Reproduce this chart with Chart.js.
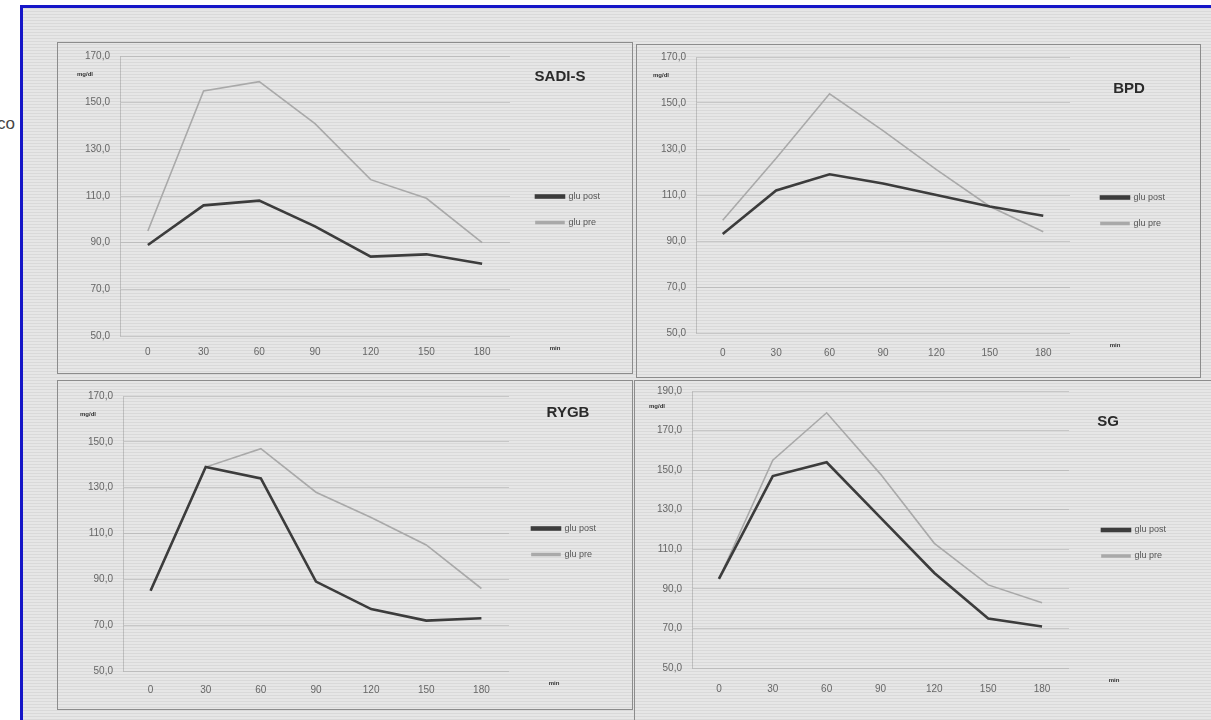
<!DOCTYPE html>
<html>
<head>
<meta charset="utf-8">
<script src="https://cdn.jsdelivr.net/npm/chart.js@4"></script>
<style>
  html, body { margin: 0; padding: 0; background: #fff; }
  body { width: 1211px; height: 720px; position: relative; overflow: hidden; font-family: "Liberation Sans", Arial, sans-serif; }
  #side { position: absolute; left: -3px; top: 114px; font-size: 17px; color: #444; }
  #frame {
    position: absolute; left: 20px; top: 5px; width: 1200px; height: 720px;
    border: 3px solid #1616c8; box-sizing: border-box;
    background: repeating-linear-gradient(0deg, #e6e6e6 0px, #e6e6e6 2px, #d9d9d9 2px, #d9d9d9 3px);
  }
  .panel { position: absolute; border: 1.5px solid #8c8c8c; box-sizing: border-box; }
  .panel canvas { position: absolute; left: 0; }
</style>
</head>
<body>
<div id="side">co</div>
<div id="frame"></div>
<div class="panel" style="left:57px;top:42px;width:576px;height:332px;"><canvas id="c1" style="top:-3px"></canvas></div>
<div class="panel" style="left:636px;top:44px;width:565px;height:334px;"><canvas id="c2" style="top:-4px"></canvas></div>
<div class="panel" style="left:57px;top:380px;width:576px;height:330px;"><canvas id="c3" style="top:-1px"></canvas></div>
<div class="panel" style="left:634px;top:380px;width:580px;height:345px;"><canvas id="c4" style="top:-6px"></canvas></div>
<script>
// tempi (min)
const timeLabels = ["0", "30", "60", "90", "120", "150", "180"];
const seriesNames = ["glu post", "glu pre"];

// SADI-S
const sadiPost = [89, 106, 108, 97, 84, 85, 81];
const sadiPre = [95, 155, 159, 141, 117, 109, 90];
// BPD
const bpdPost = [93, 112, 119, 115, 110, 105, 101];
const bpdPre = [99, 126, 154, 138, 121, 105, 94];
// RYGB
const rygbPost = [85, 139, 134, 89, 77, 72, 73];
const rygbPre = [85, 139, 147, 128, 117, 105, 86];
// SG
const sgPost = [95, 147, 154, 126, 98, 75, 71];
const sgPre = [95, 155, 179, 148, 113, 92, 83];

const LEGEND_W = 90;
const panels = [
  { id: "c1", title: "SADI-S", post: sadiPost, pre: sadiPre, yMax: 170,
    w: 573, h: 329, left: 62, bottom: 33, right: 120, tickPad: 2, legDx: 9, legDy: 5, tx: 502, ty: 37 },
  { id: "c2", title: "BPD", post: bpdPost, pre: bpdPre, yMax: 170,
    w: 562, h: 331, left: 59, bottom: 39, right: 128, tickPad: 6, legDx: 14, legDy: 4, tx: 492, ty: 48 },
  { id: "c3", title: "RYGB", post: rygbPost, pre: rygbPre, yMax: 170,
    w: 573, h: 327, left: 65, bottom: 36, right: 121, tickPad: 5, legDx: 6, legDy: -2, tx: 510, ty: 33 },
  { id: "c4", title: "SG", post: sgPost, pre: sgPre, yMax: 190,
    w: 577, h: 342, left: 57, bottom: 49, right: 142, tickPad: 7, legDx: 16, legDy: -3, tx: 473, ty: 47 }
];

// titolo, etichette degli assi, spostamento legenda
const extras = {
  id: "extras",
  afterLayout(chart) {
    const p = chart.options.plugins.extras;
    chart.legend.left += p.legDx;
    chart.legend.right += p.legDx;
    chart.legend.top += p.legDy;
    chart.legend.bottom += p.legDy;
  },
  afterDraw(chart) {
    const ctx = chart.ctx;
    const p = chart.options.plugins.extras;
    const area = chart.chartArea;
    ctx.save();
    ctx.fillStyle = "#2a2a2a";
    ctx.font = "bold 15px 'Liberation Sans', Arial, sans-serif";
    ctx.textAlign = "center";
    ctx.textBaseline = "middle";
    ctx.fillText(p.title, p.tx, p.ty);
    ctx.font = "bold 6px 'Liberation Sans', Arial, sans-serif";
    ctx.fillStyle = "#333";
    const y = chart.scales.y;
    ctx.fillText("mg/dl", area.left - 35, y.getPixelForValue(y.max - 8));
    ctx.fillText("min", area.right + 45, area.bottom + 12);
    ctx.restore();
  }
};

panels.forEach(function (p) {
  const canvas = document.getElementById(p.id);
  canvas.width = p.w;
  canvas.height = p.h;
  new Chart(canvas.getContext("2d"), {
    type: "line",
    data: {
      labels: timeLabels,
      datasets: [{
        label: seriesNames[0],
        data: p.post,
        borderColor: "#3c3c3c",
        backgroundColor: "#3c3c3c",
        borderWidth: 2.6,
        pointRadius: 0,
        tension: 0
      }, {
        label: seriesNames[1],
        data: p.pre,
        borderColor: "#a9a9a9",
        backgroundColor: "#a9a9a9",
        borderWidth: 1.6,
        pointRadius: 0,
        tension: 0
      }]
    },
    options: {
      responsive: false,
      animation: false,
      layout: { padding: { left: 0, top: 0, bottom: 0, right: p.right - LEGEND_W } },
      scales: {
        x: {
          offset: true,
          grid: { display: false },
          border: { display: false },
          ticks: { color: "#666", font: { size: 10 }, padding: p.tickPad, maxRotation: 0 },
          afterFit: function (s) { s.height = p.bottom; }
        },
        y: {
          min: 50,
          max: p.yMax,
          grid: { color: "rgba(120,120,120,0.28)", drawTicks: false },
          border: { color: "rgba(120,120,120,0.35)" },
          ticks: {
            stepSize: 20,
            color: "#666",
            font: { size: 10 },
            padding: 10,
            callback: function (v) { return v.toFixed(1).replace(".", ","); }
          },
          afterFit: function (s) { s.width = p.left; }
        }
      },
      plugins: {
        legend: {
          position: "right",
          align: "center",
          labels: { boxWidth: 28, boxHeight: 2, padding: 17, color: "#555", font: { size: 9 } }
        },
        tooltip: { enabled: false },
        extras: { title: p.title, tx: p.tx, ty: p.ty, legDx: p.legDx, legDy: p.legDy }
      }
    },
    plugins: [extras]
  });
});
</script>
</body>
</html>
